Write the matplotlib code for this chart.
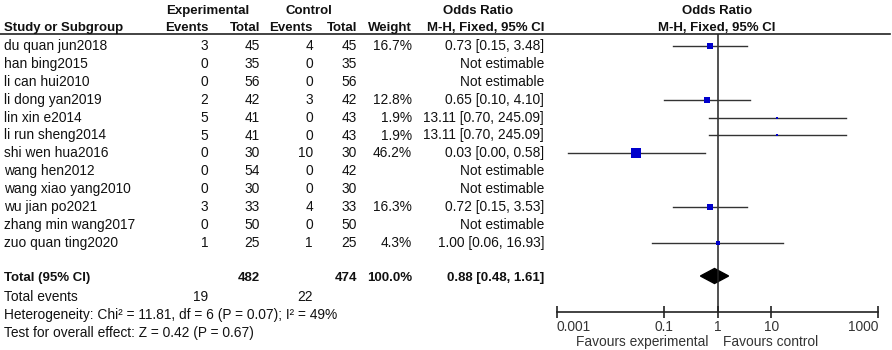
"""forest plot, odds ratio, fixed effect"""
import matplotlib.pyplot as plt
from matplotlib.patches import Polygon

plt.rcParams['font.family'] = ['Liberation Sans', 'DejaVu Sans']

studies = ['du quan jun2018', 'han bing2015', 'li can hui2010', 'li dong yan2019',
           'lin xin e2014', 'li run sheng2014', 'shi wen hua2016', 'wang hen2012',
           'wang xiao yang2010', 'wu jian po2021', 'zhang min wang2017',
           'zuo quan ting2020']
exp_events = [3, 0, 0, 2, 5, 5, 0, 0, 0, 3, 0, 1]
exp_total = [45, 35, 56, 42, 41, 41, 30, 54, 30, 33, 50, 25]
ctl_events = [4, 0, 0, 3, 0, 0, 10, 0, 0, 4, 0, 1]
ctl_total = [45, 35, 56, 42, 43, 43, 30, 42, 30, 33, 50, 25]
# None = not estimable
weights = [16.7, None, None, 12.8, 1.9, 1.9, 46.2, None, None, 16.3, None, 4.3]
odds = [0.73, None, None, 0.65, 13.11, 13.11, 0.03, None, None, 0.72, None, 1.00]
ci_low = [0.15, None, None, 0.10, 0.70, 0.70, 0.0016, None, None, 0.15, None, 0.06]
ci_high = [3.48, None, None, 4.10, 245.09, 245.09, 0.58, None, None, 3.53, None, 16.93]
ci_text = ['0.73 [0.15, 3.48]', None, None, '0.65 [0.10, 4.10]',
           '13.11 [0.70, 245.09]', '13.11 [0.70, 245.09]', '0.03 [0.00, 0.58]',
           None, None, '0.72 [0.15, 3.53]', None, '1.00 [0.06, 16.93]']

total_exp, total_ctl = 482, 474
events_exp, events_ctl = 19, 22
pooled_or, pooled_low, pooled_high = 0.88, 0.48, 1.61
pooled_text = '0.88 [0.48, 1.61]'
het_text = 'Heterogeneity: Chi\u00b2 = 11.81, df = 6 (P = 0.07); I\u00b2 = 49%'
z_text = 'Test for overall effect: Z = 0.42 (P = 0.67)'
tick_vals = [0.001, 0.1, 1, 10, 1000]
tick_labels = ['0.001', '0.1', '1', '10', '1000']

W, H = 892, 350
fig = plt.figure(figsize=(W / 100, H / 100), dpi=100)
ax = fig.add_axes([0, 0, 1, 1])
ax.set_xlim(0, W)
ax.set_ylim(H, 0)
ax.axis('off')

fs = 9.9
txt = dict(fontsize=fs, va='center', color='#111111')
bold = dict(txt, fontweight='bold', fontsize=9.5)

# header
ax.text(208, 11, 'Experimental', ha='center', **bold)
ax.text(309, 11, 'Control', ha='center', **bold)
ax.text(478, 11, 'Odds Ratio', ha='center', **bold)
ax.text(717, 11, 'Odds Ratio', ha='center', **bold)
ax.text(4, 28, 'Study or Subgroup', ha='left', **bold)
for x, s in [(208, 'Events'), (260, 'Total'), (313, 'Events'), (357, 'Total'),
             (412, 'Weight'), (544, 'M-H, Fixed, 95% CI')]:
    ax.text(x, 28, s, ha='right', **bold)
ax.text(717, 28, 'M-H, Fixed, 95% CI', ha='center', **bold)
ax.plot([0, 890], [33.5, 33.5], color='#222222', lw=1.2)

row0, step = 46, 17.9
rows_y = [row0 + i * step for i in range(len(studies))]
for i, y in enumerate(rows_y):
    ax.text(4, y, studies[i], ha='left', **txt)
    ax.text(208, y, str(exp_events[i]), ha='right', **txt)
    ax.text(260, y, str(exp_total[i]), ha='right', **txt)
    ax.text(313, y, str(ctl_events[i]), ha='right', **txt)
    ax.text(357, y, str(ctl_total[i]), ha='right', **txt)
    if weights[i] is not None:
        ax.text(412, y, f'{weights[i]:.1f}%', ha='right', **txt)
    ax.text(544, y, ci_text[i] if ci_text[i] else 'Not estimable', ha='right', **txt)

ty = 278
ax.text(4, ty, 'Total (95% CI)', ha='left', **bold)
ax.text(260, ty, str(total_exp), ha='right', **bold)
ax.text(357, ty, str(total_ctl), ha='right', **bold)
ax.text(412, ty, '100.0%', ha='right', **bold)
ax.text(544, ty, pooled_text, ha='right', **bold)
ax.text(4, 297, 'Total events', ha='left', **txt)
ax.text(208, 297, str(events_exp), ha='right', **txt)
ax.text(313, 297, str(events_ctl), ha='right', **txt)
ax.text(4, 315, het_text, ha='left', **txt)
ax.text(4, 333, z_text, ha='left', **txt)

# forest panel, y in the same pixel units
x0, x1, ytop, ybot = 556.7, 878.3, 33.5, 311.7
axf = fig.add_axes([x0 / W, 1 - ybot / H, (x1 - x0) / W, (ybot - ytop) / H])
axf.set_xscale('log')
axf.set_xlim(tick_vals[0], tick_vals[-1])
axf.set_ylim(ybot, ytop)
axf.patch.set_alpha(0)
for s in ('top', 'left', 'right'):
    axf.spines[s].set_visible(False)
axf.spines['bottom'].set_color('#222222')
axf.spines['bottom'].set_linewidth(1.2)
axf.set_yticks([])
axf.set_xticks(tick_vals)
axf.set_xticklabels(tick_labels)
axf.minorticks_off()
axf.tick_params(axis='x', direction='inout', length=8, width=1.2, color='#222222',
                labelsize=fs, labelcolor='#333333', pad=2)
labs = axf.get_xticklabels()
labs[0].set_ha('left')
labs[-1].set_ha('right')
axf.axvline(1, color='#222222', lw=1.1)

for i, y in enumerate(rows_y):
    if odds[i] is None:
        continue
    axf.plot([ci_low[i], ci_high[i]], [y, y], color='#333333', lw=1.0)
    side = 1.47 * weights[i] ** 0.5
    axf.plot(odds[i], y, marker='s', ms=side * 0.72, color='#0000cc', mew=0)

dh = 7.5
axf.add_patch(Polygon([(pooled_low, ty - 2), (pooled_or, ty - 2 - dh),
                       (pooled_high, ty - 2), (pooled_or, ty - 2 + dh)],
                      closed=True, color='black'))

ax.text(708, 342, 'Favours experimental', ha='right', fontsize=fs, va='center', color='#333333')
ax.text(723, 342, 'Favours control', ha='left', fontsize=fs, va='center', color='#333333')

fig.savefig('out.png', dpi=100)
